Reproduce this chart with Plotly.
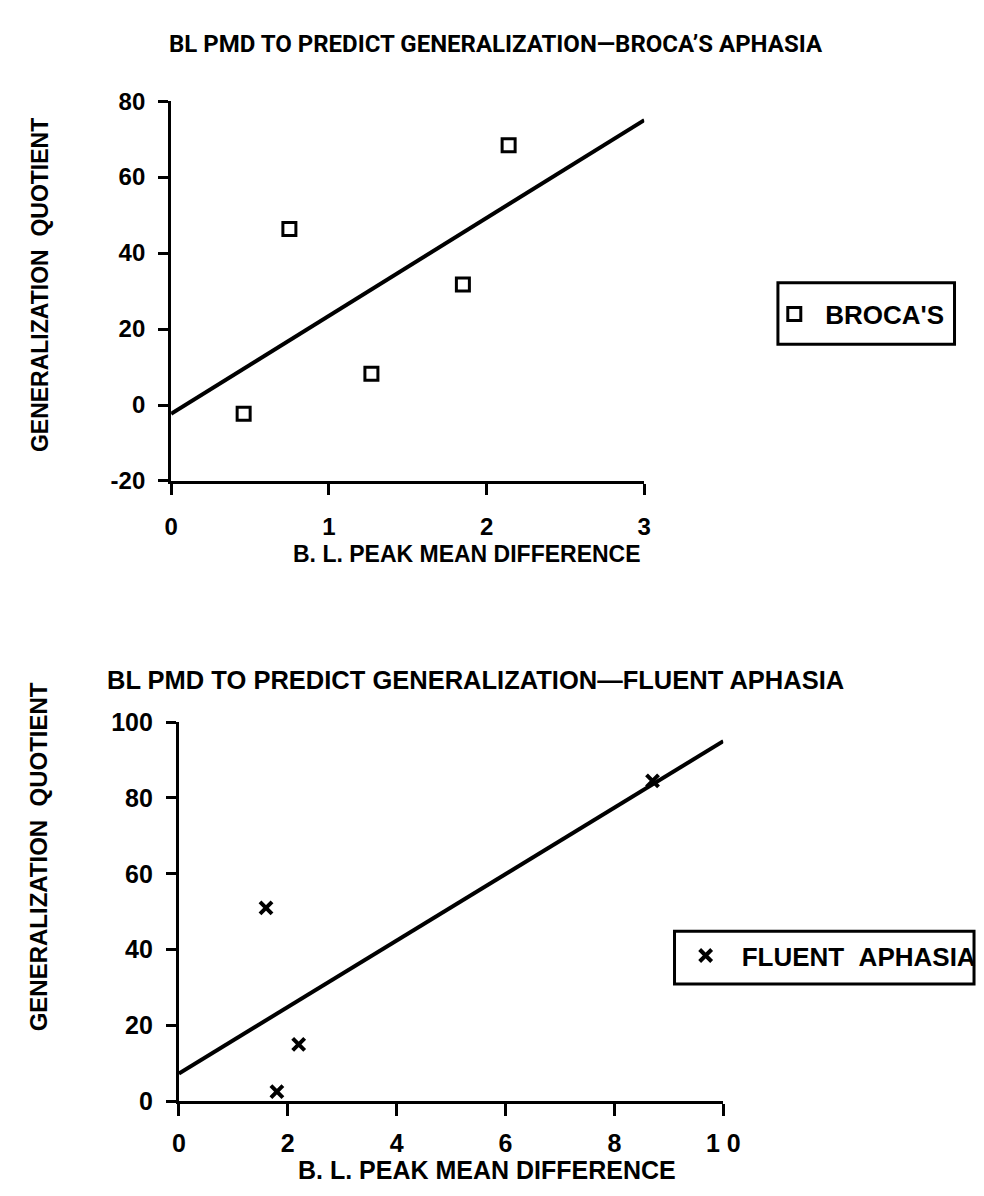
import plotly.graph_objects as go

W, H = 984, 1196

# ---------------- data ----------------
broca_x = [0.46, 0.75, 1.27, 1.85, 2.14]
broca_y = [-2.3, 46.3, 8.2, 31.7, 68.4]
broca_fit_x = [0, 3]
broca_fit_y = [-2.3, 75.0]

fluent_x = [1.6, 2.2, 1.8, 8.7]
fluent_y = [51.0, 15.0, 2.5, 84.5]
fluent_fit_x = [0, 10]
fluent_fit_y = [7.3, 95.0]

top_xticks = [0, 1, 2, 3]
top_xticklabels = ["0", "1", "2", "3"]
top_yticks = [-20, 0, 20, 40, 60, 80]
top_yticklabels = ["-20", "0", "20", "40", "60", "80"]

bot_xticks = [0, 2, 4, 6, 8, 10]
bot_xticklabels = ["0", "2", "4", "6", "8", "1 0"]
bot_yticks = [0, 20, 40, 60, 80, 100]
bot_yticklabels = ["0", "20", "40", "60", "80", "100"]

title_top = "BL PMD TO PREDICT GENERALIZATION\u2014BROCA\u2019S APHASIA"
title_bot = "BL PMD TO PREDICT GENERALIZATION\u2014FLUENT APHASIA"
x_title = "B. L. PEAK MEAN DIFFERENCE"
y_title = "GENERALIZATION\u00a0\u00a0QUOTIENT"
name_broca = "BROCA'S"
name_fluent = "FLUENT\u00a0\u00a0APHASIA"

# ---------------- helpers ----------------
def px_x(p):
    return p / W

def px_y(p):
    return 1 - p / H

FONT = "Liberation Sans, Arial, sans-serif"
COND = "Roboto, Liberation Sans, Arial, sans-serif"

def axis_style(fsize, **kw):
    d = dict(
        showline=True, linecolor="black", linewidth=3,
        ticks="outside", ticklen=10, tickwidth=3, tickcolor="black",
        showgrid=False, zeroline=False,
        tickfont=dict(family=FONT, size=fsize, color="black", weight="bold"),
    )
    d.update(kw)
    return d

def label(text, x, y, size, angle=0, family=FONT):
    return dict(text=text, x=px_x(x), y=px_y(y), xref="paper", yref="paper",
                xanchor="center", yanchor="middle", showarrow=False,
                textangle=angle,
                font=dict(family=family, size=size, color="black", weight="bold"))

fig = go.Figure()

# top chart
fig.add_trace(go.Scatter(
    x=broca_fit_x, y=broca_fit_y, mode="lines",
    line=dict(color="black", width=4), showlegend=False,
    xaxis="x", yaxis="y", hoverinfo="skip"))
fig.add_trace(go.Scatter(
    x=broca_x, y=broca_y, mode="markers", name=name_broca,
    marker=dict(symbol="square-open", size=13, color="black",
                line=dict(color="black", width=3)),
    xaxis="x", yaxis="y", legend="legend"))

# bottom chart
fig.add_trace(go.Scatter(
    x=fluent_fit_x, y=fluent_fit_y, mode="lines",
    line=dict(color="black", width=4), showlegend=False,
    xaxis="x2", yaxis="y2", hoverinfo="skip"))
fig.add_trace(go.Scatter(
    x=fluent_x, y=fluent_y, mode="markers", name=name_fluent,
    marker=dict(symbol="x-thin", size=12, color="black",
                line=dict(color="black", width=4)),
    xaxis="x2", yaxis="y2", legend="legend2"))

fig.update_layout(
    width=W, height=H,
    margin=dict(l=0, r=0, t=0, b=0),
    paper_bgcolor="white", plot_bgcolor="white",
    font=dict(family=FONT, color="black"),
    xaxis=axis_style(24, domain=[px_x(160), px_x(645)], range=[0, 3],
                     tickvals=top_xticks, ticktext=top_xticklabels,
                     anchor="y", ticklen=11, ticklabelstandoff=11),
    yaxis=axis_style(24, domain=[px_y(470), px_y(81)], range=[-20, 80],
                     tickvals=top_yticks, ticktext=top_yticklabels,
                     anchor="x", ticklabelstandoff=8),
    xaxis2=axis_style(25, domain=[px_x(168), px_x(726)], range=[0, 10],
                      tickvals=bot_xticks, ticktext=bot_xticklabels,
                      anchor="y2", ticklen=12, ticklabelstandoff=6),
    yaxis2=axis_style(25, domain=[px_y(1105), px_y(717)], range=[0, 100],
                      tickvals=bot_yticks, ticktext=bot_yticklabels,
                      anchor="x2", ticklabelstandoff=8),
    legend=dict(x=px_x(767), y=px_y(299), xanchor="left", yanchor="middle",
                bgcolor="rgba(0,0,0,0)", borderwidth=0, itemwidth=52,
                font=dict(family=FONT, size=26, color="black", weight="bold")),
    legend2=dict(x=px_x(671), y=px_y(956), xanchor="left", yanchor="middle",
                 bgcolor="rgba(0,0,0,0)", borderwidth=0, itemwidth=62,
                 font=dict(family=FONT, size=26, color="black", weight="bold")),
    shapes=[
        dict(type="rect", xref="paper", yref="paper",
             x0=px_x(782), x1=px_x(963), y0=px_y(330), y1=px_y(267),
             line=dict(color="black", width=3)),
        dict(type="rect", xref="paper", yref="paper",
             x0=px_x(676), x1=px_x(983), y0=px_y(985), y1=px_y(931),
             line=dict(color="black", width=3)),
    ],
    annotations=[
        label(title_top, 493.5, 22.5, 24, family=COND),
        label(title_bot, 472.5, 674, 25.5),
        label(x_title, 463.5, 545, 23),
        label(x_title, 484, 1176, 25),
        label(y_title, 25, 269, 23, angle=-90),
        label(y_title, 25, 855, 24, angle=-90),
    ],
)

fig.write_html("out.html")
